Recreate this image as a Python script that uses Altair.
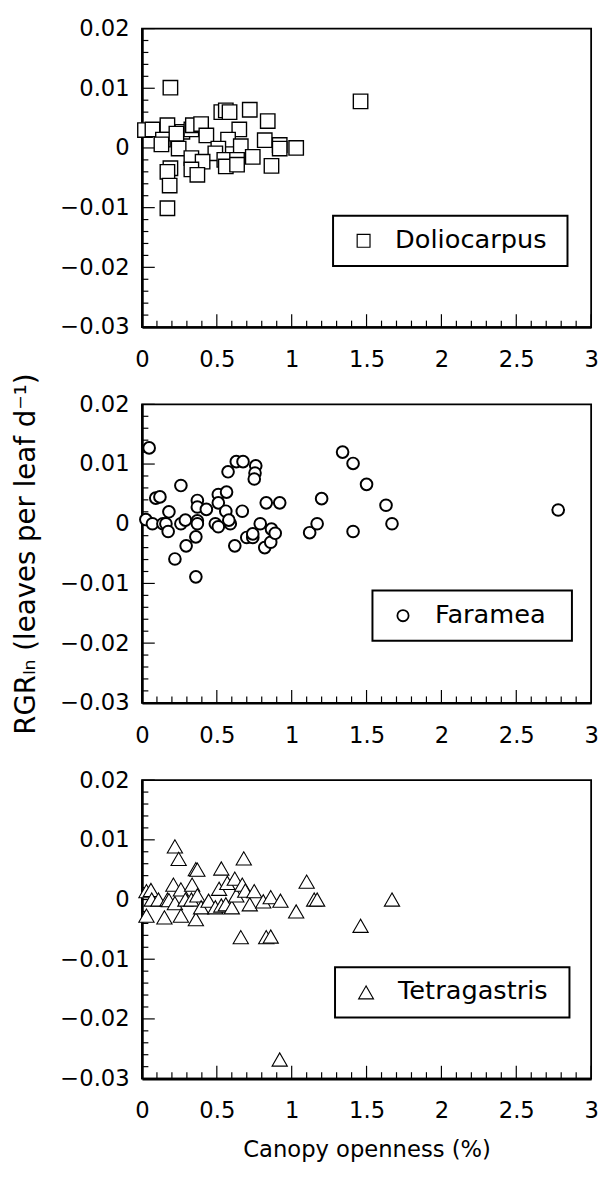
import altair as alt
import pandas as pd

FONT = "DejaVu Sans"
W, H = 456, 303

# Doliocarpus
dol_x = [0.02, 0.07, 0.17, 0.14, 0.13, 0.19, 0.17, 0.245, 0.27, 0.23, 0.33, 0.34, 0.395, 0.43,
         0.53, 0.56, 0.585, 0.72, 0.65, 0.84, 0.82, 0.92, 0.92, 1.03, 0.575, 0.51, 0.66, 0.49,
         0.33, 0.405, 0.55, 0.635, 0.74, 0.56, 0.635, 0.865, 0.33, 0.37, 0.19, 0.17, 0.185, 1.46]
dol_y = [0.0030, 0.0031, 0.0038, 0.0014, 0.0006, 0.0101, -0.0101, -0.0001, 0.0027, 0.0024, 0.0031, 0.0038, 0.0040, 0.0021,
         0.0060, 0.0063, 0.0060, 0.0064, 0.0031, 0.0045, 0.0013, 0.0005, -0.0001, 0.0000, 0.0014, -0.0001, 0.0003, -0.0009,
         -0.0017, -0.0023, -0.0020, -0.0020, -0.0015, -0.0031, -0.0028, -0.0030, -0.0036, -0.0045, -0.0034, -0.0040, -0.0063, 0.0078]

# Faramea
far_x = [0.026, 0.048, 0.07, 0.092, 0.12, 0.14, 0.16, 0.175, 0.18, 0.22, 0.26, 0.26, 0.29, 0.295, 0.36, 0.36,
         0.37, 0.37, 0.37, 0.37, 0.43, 0.49, 0.51, 0.51, 0.51, 0.565, 0.56, 0.575, 0.59, 0.58, 0.62, 0.63,
         0.675, 0.67, 0.70, 0.74, 0.74, 0.76, 0.755, 0.75, 0.79, 0.82, 0.83, 0.86, 0.865, 0.89, 0.92, 1.12,
         1.17, 1.20, 1.34, 1.41, 1.50, 1.63, 1.67, 1.41, 2.78]
far_y = [0.0007, 0.0127, 0.0000, 0.0043, 0.0045, 0.0000, 0.0000, -0.0013, 0.0020, -0.0059, 0.0064, 0.0000, 0.0006, -0.0037, -0.0089, -0.0022,
         0.0005, 0.0000, 0.0039, 0.0028, 0.0024, 0.0000, -0.0005, 0.0049, 0.0035, 0.0053, 0.0021, 0.0087, 0.0000, 0.0006, -0.0037, 0.0104,
         0.0104, 0.0021, -0.0023, -0.0023, -0.0017, 0.0097, 0.0085, 0.0075, 0.0000, -0.0040, 0.0035, -0.0031, -0.0009, -0.0016, 0.0035, -0.0015,
         0.0000, 0.0042, 0.0120, 0.0101, 0.0066, 0.0031, 0.0000, -0.0013, 0.0023]

# Tetragastris
tet_x = [0.22, 0.245, 0.36, 0.37, 0.53, 0.68, 0.03, 0.06, 0.065, 0.03, 0.11, 0.15, 0.17, 0.21, 0.18, 0.22,
         0.26, 0.26, 0.29, 0.33, 0.335, 0.36, 0.37, 0.395, 0.445, 0.49, 0.515, 0.53, 0.56, 0.57, 0.60, 0.62,
         0.63, 0.67, 0.69, 0.72, 0.75, 0.66, 0.83, 0.86, 0.81, 0.86, 0.925, 1.03, 1.10, 1.15, 1.17, 1.67,
         1.46, 0.92]
tet_y = [0.0089, 0.0068, 0.0051, 0.0050, 0.0052, 0.0069, 0.0014, 0.0016, 0.0000, -0.0027, 0.0000, -0.0030, 0.0000, 0.0025, -0.0001, -0.0006,
         -0.0027, 0.0017, 0.0000, 0.0000, 0.0025, -0.0033, 0.0007, -0.0013, -0.0002, -0.0013, 0.0018, -0.0010, -0.0008, 0.0028, -0.0013, 0.0035,
         0.0007, 0.0025, 0.0015, -0.0008, 0.0014, -0.0063, -0.0063, -0.0062, -0.0003, 0.0004, -0.0002, -0.0020, 0.0030, 0.0000, 0.0000, 0.0000,
         -0.0044, -0.0268]

y_major = [-0.03, -0.02, -0.01, 0.0, 0.01, 0.02]
y_minor = [-0.028, -0.026, -0.024, -0.022, -0.018, -0.016, -0.014, -0.012, -0.008, -0.006,
           -0.004, -0.002, 0.002, 0.004, 0.006, 0.008, 0.012, 0.014, 0.016, 0.018]
x_major = [0, 0.5, 1, 1.5, 2, 2.5, 3]
x_minor = [0.1, 0.2, 0.3, 0.4, 0.6, 0.7, 0.8, 0.9, 1.1, 1.2, 1.3, 1.4, 1.6, 1.7, 1.8, 1.9,
           2.1, 2.2, 2.3, 2.4, 2.6, 2.7, 2.8, 2.9]

Y_TITLE = "RGR\u2097\u2099 (leaves per leaf d\u207b\u00b9)"

xscale = alt.Scale(domain=[0, 3], nice=False, zero=False)
yscale = alt.Scale(domain=[-0.03, 0.02], nice=False, zero=False)


def axes(show_xtitle, show_ytitle):
    xkw = dict(values=x_major, format=".1~f", ticks=False, tickSize=0, grid=False,
               labelPadding=22, labelFontSize=23, labelFont=FONT, labelColor="black",
               labelFlush=False, labelOverlap=False, domainColor="black", domainWidth=2.6,
               titleFont=FONT, titleFontSize=23, titleFontWeight="normal", titleColor="black",
               titlePadding=16)
    xa = alt.Axis(title="Canopy openness (%)" if show_xtitle else None, **xkw)
    ykw = dict(values=y_major, format=".2~f", ticks=False, tickSize=0, grid=False,
               labelPadding=13, labelFontSize=23, labelFont=FONT, labelColor="black",
               labelFlush=False, labelOverlap=False, domainColor="black", domainWidth=2.6,
               titleFont=FONT, titleFontSize=28, titleFontWeight="normal", titleColor="black",
               titlePadding=20)
    ya = alt.Axis(title=Y_TITLE if show_ytitle else None, **ykw)
    return xa, ya


def panel(xs, ys, name, shape, msize, msw, lsize, lsw, box, sym_x, txt_x, show_xtitle, show_ytitle):
    xa, ya = axes(show_xtitle, show_ytitle)
    df = pd.DataFrame({"open": xs, "rgr": ys})
    ymaj = alt.Chart(pd.DataFrame({"v": y_major})).mark_rule(color="black", strokeWidth=1.2).encode(
        y=alt.Y("v:Q", scale=yscale, axis=ya), x=alt.value(0), x2=alt.value(13))
    ymin = alt.Chart(pd.DataFrame({"v": y_minor})).mark_rule(color="black", strokeWidth=1.2).encode(
        y=alt.Y("v:Q", scale=yscale, axis=ya), x=alt.value(0), x2=alt.value(6.5))
    xmaj = alt.Chart(pd.DataFrame({"v": x_major})).mark_rule(color="black", strokeWidth=1.2).encode(
        x=alt.X("v:Q", scale=xscale, axis=xa), y=alt.value(H), y2=alt.value(H - 13))
    xmin = alt.Chart(pd.DataFrame({"v": x_minor})).mark_rule(color="black", strokeWidth=1.2).encode(
        x=alt.X("v:Q", scale=xscale, axis=xa), y=alt.value(H), y2=alt.value(H - 6.5))
    pts = alt.Chart(df).mark_point(filled=False, color="black", fill="white", strokeWidth=msw,
                                   size=msize, opacity=1, shape=shape).encode(
        x=alt.X("open:Q", scale=xscale, axis=xa),
        y=alt.Y("rgr:Q", scale=yscale, axis=ya),
    )
    # key box
    leg = pd.DataFrame({"species": [name]})
    x0, y0, x1, y1 = box
    cy = (y0 + y1) / 2
    lbox = alt.Chart(leg).mark_rect(filled=False, stroke="black", strokeWidth=2).encode(
        x=alt.value(x0), x2=alt.value(x1), y=alt.value(y0), y2=alt.value(y1))
    lsym = alt.Chart(leg).mark_point(filled=False, color="black", fill="white", strokeWidth=lsw,
                                     size=lsize, opacity=1, shape=shape).encode(
        x=alt.value(sym_x), y=alt.value(cy))
    ltxt = alt.Chart(leg).mark_text(align="left", baseline="middle", font=FONT, fontSize=26,
                                    color="black").encode(
        x=alt.value(txt_x), y=alt.value(cy - 1), text="species:N")
    return alt.layer(ymaj, ymin, xmaj, xmin, pts, lbox, lsym, ltxt).properties(width=W, height=H)


p1 = panel(dol_x, dol_y, "Doliocarpus", "square", 215, 1.4, 170, 1.2,
           (194, 190, 432, 241), 225, 257, False, False)
p2 = panel(far_x, far_y, "Faramea", "circle", 140, 2.0, 130, 1.8,
           (234, 189, 436.5, 240), 265, 297.5, False, True)
p3 = panel(tet_x, tet_y, "Tetragastris", "triangle-up", 240, 1.1, 230, 1.1,
           (196, 190, 434, 241), 227.5, 260, True, False)

chart = alt.vconcat(p1, p2, p3, spacing=78.5, bounds="flush").configure_view(
    stroke="black", strokeWidth=1.8).properties(
    padding={"left": 3, "top": 0, "right": 0, "bottom": 5})

chart.save("out.html", embed_options={"renderer": "svg", "actions": False})
